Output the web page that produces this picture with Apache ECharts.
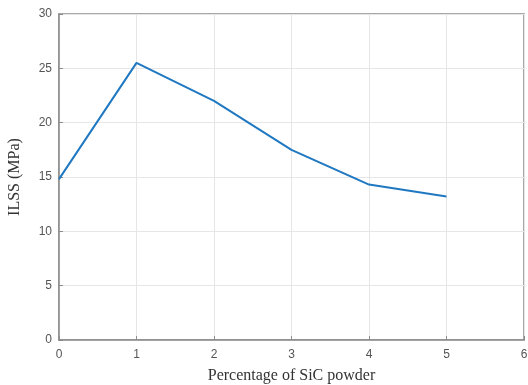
<!DOCTYPE html>
<html>
<head>
<meta charset="utf-8">
<script src="https://cdn.jsdelivr.net/npm/echarts@6/dist/echarts.min.js"></script>
<style>
  html, body { margin: 0; padding: 0; background: #fff; }
  #chart { width: 528px; height: 385px; }
</style>
</head>
<body>
<div id="chart"></div>
<script>
// SiC powder percentage vs ILSS
var percent = [0, 1, 2, 3, 4, 5];
var ilss = [14.8, 25.5, 22.0, 17.5, 14.3, 13.2];
var xTicks = [0, 1, 2, 3, 4, 5, 6];
var yTicks = [0, 5, 10, 15, 20, 25, 30];

var chart = echarts.init(document.getElementById('chart'));

var axisGray = '#8c8c8c';
var tickFont = { color: '#555', fontSize: 12, fontFamily: 'Liberation Sans, Arial' };

chart.setOption({
  animation: false,
  grid: {
    left: 59, right: 4, top: 14, bottom: 45,
    outerBoundsMode: 'none',
    containLabel: false,
    show: true,
    borderColor: axisGray,
    borderWidth: 1.5
  },
  xAxis: {
    type: 'value',
    min: 0,
    max: 6,
    interval: 1,
    name: 'Percentage of SiC powder',
    nameLocation: 'middle',
    nameGap: 28,
    nameTextStyle: { color: '#333', fontSize: 16, fontFamily: 'Liberation Serif, Times New Roman' },
    axisLine: { show: true, lineStyle: { color: axisGray, width: 1.5 } },
    axisTick: { show: true, inside: true, length: 4, lineStyle: { color: axisGray } },
    axisLabel: Object.assign({ margin: 9, formatter: function (v) { return xTicks.indexOf(v) >= 0 ? v : ''; } }, tickFont),
    splitLine: { show: true, lineStyle: { color: '#e6e6e6', width: 1 } }
  },
  yAxis: {
    type: 'value',
    min: 0,
    max: 30,
    interval: 5,
    name: 'ILSS (MPa)',
    nameLocation: 'middle',
    nameGap: 36,
    nameTextStyle: { color: '#333', fontSize: 16, fontFamily: 'Liberation Serif, Times New Roman' },
    axisLine: { show: true, lineStyle: { color: axisGray, width: 1.5 } },
    axisTick: { show: true, inside: true, length: 4, lineStyle: { color: axisGray } },
    axisLabel: Object.assign({ margin: 7, formatter: function (v) { return yTicks.indexOf(v) >= 0 ? v : ''; } }, tickFont),
    splitLine: { show: true, lineStyle: { color: '#e6e6e6', width: 1 } }
  },
  series: [
    {
      type: 'line',
      data: percent.map(function (p, i) { return [p, ilss[i]]; }),
      showSymbol: false,
      lineStyle: { color: '#1f78c1', width: 2 },
      itemStyle: { color: '#1f78c1' }
    }
  ]
});
</script>
</body>
</html>
